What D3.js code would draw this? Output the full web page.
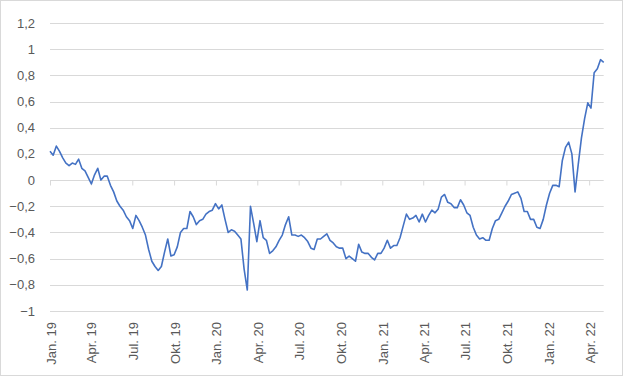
<!DOCTYPE html>
<html>
<head>
<meta charset="utf-8">
<script src="https://cdn.jsdelivr.net/npm/d3@7"></script>
<style>
  html, body { margin: 0; padding: 0; background: #fff; }
  svg { display: block; }
</style>
</head>
<body>
<svg id="chart" width="624" height="377"></svg>
<script>
// ---- data (weekly readings, starting 2019-01-01) ----
const startDate = "2019-01-01";
const values = [
  0.22, 0.19, 0.26, 0.22, 0.17, 0.13, 0.11, 0.13, 0.12, 0.16,
  0.09, 0.07, 0.02, -0.03, 0.04, 0.09, 0.00, 0.03, 0.03, -0.04,
  -0.09, -0.16, -0.20, -0.23, -0.28, -0.31, -0.37, -0.27, -0.31, -0.36,
  -0.42, -0.53, -0.62, -0.66, -0.69, -0.66, -0.55, -0.45, -0.58, -0.57,
  -0.51, -0.40, -0.37, -0.37, -0.24, -0.28, -0.34, -0.31, -0.30, -0.26,
  -0.24, -0.23, -0.18, -0.22, -0.19, -0.30, -0.40, -0.38, -0.39, -0.42,
  -0.45, -0.68, -0.84, -0.20, -0.33, -0.47, -0.31, -0.44, -0.46, -0.56,
  -0.54, -0.51, -0.46, -0.42, -0.34, -0.28, -0.42, -0.42, -0.43, -0.42,
  -0.44, -0.47, -0.52, -0.53, -0.45, -0.45, -0.43, -0.41, -0.46, -0.48,
  -0.51, -0.52, -0.52, -0.60, -0.58, -0.60, -0.62, -0.49, -0.55, -0.56,
  -0.56, -0.59, -0.61, -0.56, -0.56, -0.52, -0.46, -0.52, -0.50, -0.50,
  -0.44, -0.35, -0.26, -0.30, -0.29, -0.27, -0.32, -0.26, -0.32, -0.27,
  -0.23, -0.25, -0.22, -0.13, -0.11, -0.17, -0.18, -0.21, -0.21, -0.15,
  -0.19, -0.25, -0.27, -0.36, -0.42, -0.45, -0.44, -0.46, -0.46, -0.37,
  -0.31, -0.30, -0.25, -0.20, -0.16, -0.11, -0.10, -0.09, -0.14, -0.24,
  -0.24, -0.30, -0.30, -0.36, -0.37, -0.30, -0.19, -0.10, -0.04, -0.04,
  -0.05, 0.15, 0.25, 0.29, 0.20, -0.09, 0.12, 0.32, 0.47, 0.59,
  0.55, 0.82, 0.85, 0.92, 0.90
];
const yTicks = [-1, -0.8, -0.6, -0.4, -0.2, 0, 0.2, 0.4, 0.6, 0.8, 1, 1.2];
const monthLabels = {0: "Jan.", 3: "Apr.", 6: "Jul.", 9: "Okt."};

// ---- build series ----
const parse = d3.utcParse("%Y-%m-%d");
const t0 = parse(startDate);
const data = values.map((v, i) => ({ date: d3.utcDay.offset(t0, i * 7), value: v }));

const svg = d3.select("#chart");
const W = 624, H = 377;
const mLeft = 50, mRight = 603.7, mTop = 23, mBottom = 311;

svg.append("rect")
  .attr("x", 0.5).attr("y", 0.5).attr("width", W - 2).attr("height", H - 2)
  .attr("fill", "#fff").attr("stroke", "#d9d9d9");

const x = d3.scaleUtc()
  .domain([data[0].date, data[data.length - 1].date])
  .range([mLeft, mRight]);
const y = d3.scaleLinear().domain([-1, 1.2]).range([mBottom, mTop]);

// gridlines
svg.append("g").selectAll("line").data(yTicks.filter(d => d !== 0)).join("line")
  .attr("x1", mLeft).attr("x2", mRight)
  .attr("y1", d => Math.round(y(d)) + 0.5).attr("y2", d => Math.round(y(d)) + 0.5)
  .attr("stroke", "#d9d9d9").attr("stroke-width", 1);

// y labels
svg.append("g").selectAll("text").data(yTicks).join("text")
  .attr("x", 35).attr("y", d => y(d)).attr("dy", "0.35em")
  .attr("text-anchor", "end")
  .attr("font-family", "Liberation Sans, Arial, sans-serif")
  .attr("font-size", 13).attr("fill", "#595959")
  .text(d => d3.format(".1~f")(d).replace(".", ","));

// x axis at zero
const months = d3.utcMonth.every(3).range(d3.utcMonth.ceil(data[0].date), data[data.length - 1].date);
const zy = Math.round(y(0)) + 0.5;
const axis = d3.axisBottom(x).tickValues(months).tickSize(5).tickFormat("");
const ax = svg.append("g").attr("transform", `translate(0,${zy})`).call(axis);
ax.select(".domain").attr("stroke", "#d9d9d9").attr("d", `M${mLeft},0H${mRight}`);
ax.selectAll(".tick line").attr("stroke", "#d9d9d9");

// x labels (rotated) at bottom
svg.append("g").selectAll("text").data(months).join("text")
  .attr("transform", d => `translate(${x(d) + 1},322) rotate(-90)`)
  .attr("dy", "0.35em")
  .attr("text-anchor", "end")
  .attr("font-family", "Liberation Sans, Arial, sans-serif")
  .attr("font-size", 13).attr("fill", "#595959")
  .text(d => monthLabels[d.getUTCMonth()] + " " + d3.utcFormat("%y")(d));

// line
const line = d3.line().x(d => x(d.date)).y(d => y(d.value));
svg.append("path").datum(data)
  .attr("d", line)
  .attr("fill", "none")
  .attr("stroke", "#4472c4")
  .attr("stroke-width", 1.6)
  .attr("stroke-linejoin", "round");
</script>
</body>
</html>
